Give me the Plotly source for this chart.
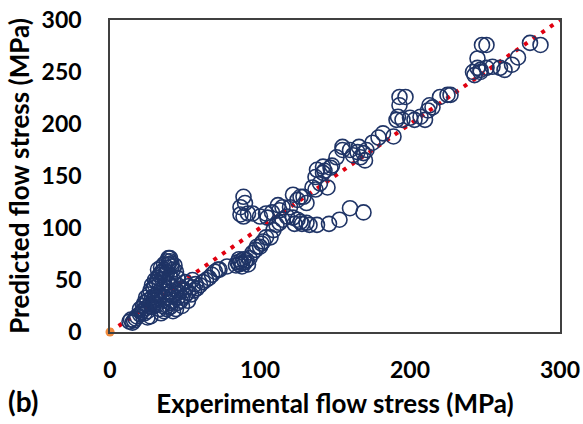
import plotly.graph_objects as go

# Experimental (x) vs predicted (y) flow stress, MPa
exp_stress = [
    13, 14, 15, 16, 17, 18, 20, 21, 22, 23, 24, 25, 26, 27, 28, 29, 30, 28, 30, 32, 31, 33, 35, 27, 25, 22, 20,
    29, 30, 31, 32, 33, 34, 35, 36, 37, 38, 39, 40, 41, 35, 33, 38, 42, 40, 39, 41,
    26, 27, 28, 30, 32, 34, 36, 38, 40, 43, 44, 42, 45, 36, 34, 32, 30, 38, 40, 25, 23, 24,
    35, 37, 38, 40, 42, 44, 46, 48, 50, 52, 55, 57, 60, 62, 64, 66, 68, 70, 72, 45, 50, 55, 40, 42, 38, 45, 47, 36, 34,
    45, 48, 50, 52, 54, 56, 58, 48, 44, 42, 40, 38, 52,
    73, 78, 84, 85, 86, 87, 88, 89, 90, 91, 92, 86, 88, 93,
    89, 90, 87, 87, 89, 92, 95, 100, 104,
    95, 98, 100, 102, 104, 107, 109, 111, 113, 115, 118, 113, 112, 125, 105, 108, 101, 97,
    115, 122, 123, 127, 128, 131, 133, 138, 146, 153, 160, 169,
    120, 122, 125, 127, 129, 131, 135, 137, 140, 142, 138, 142, 145, 147, 151, 155, 160, 165, 167, 169, 171, 175,
    179, 182, 155, 137, 143, 148, 162, 166, 170, 189,
    191, 192, 195, 200, 203, 207, 210, 193, 197, 193, 212, 215, 220, 225, 213, 227,
    242, 243, 245, 247, 248, 251, 251, 255, 260, 263, 268, 272, 280, 287, 245, 247,
]
pred_stress = [
    10, 12, 9, 11, 13, 15, 17, 19, 21, 18, 23, 20, 25, 27, 24, 30, 28, 33, 35, 38, 26, 22, 25, 15, 14, 25, 22,
    42, 45, 48, 52, 55, 57, 58, 60, 55, 62, 65, 68, 66, 50, 47, 57, 60, 53, 71, 63,
    36, 40, 45, 50, 60, 62, 65, 68, 71, 64, 58, 50, 52, 44, 40, 35, 32, 48, 45, 30, 28, 33,
    30, 33, 36, 38, 35, 40, 38, 42, 40, 44, 43, 46, 45, 48, 50, 52, 55, 58, 60, 45, 48, 50, 28, 30, 25, 33, 30, 20, 18,
    28, 33, 35, 38, 36, 40, 42, 25, 22, 20, 24, 22, 30,
    60, 63, 64, 67, 65, 68, 66, 70, 67, 69, 65, 70, 63, 71,
    130, 124, 120, 113, 111, 114, 114, 111, 114,
    76, 82, 82, 87, 91, 91, 98, 103, 105, 108, 111, 117, 122, 108, 110, 115, 85, 79,
    120, 110, 104, 106, 104, 105, 103, 103, 104, 108, 119, 115,
    120, 132, 127, 130, 130, 124, 139, 137, 143, 153, 156, 159, 139, 158, 168, 175, 175, 173, 168, 172, 175, 182,
    187, 191, 178, 149, 155, 160, 170, 178, 165, 188,
    204, 207, 204, 206, 204, 207, 204, 218, 226, 226, 213, 216, 226, 228, 218, 228,
    250, 247, 254, 250, 276, 276, 254, 255, 254, 252, 257, 264, 278, 276, 263, 252,
]

line_x = [0, 300]
line_y = [0, 300]
xaxis_ticks = [0, 100, 200, 300]
yaxis_ticks = [0, 50, 100, 150, 200, 250, 300]

FONT = "Lato"
fig = go.Figure()

fig.add_trace(go.Scatter(
    x=line_x, y=line_y, mode="lines",
    line=dict(color="#E00010", width=4, dash="4px,6.5px"),
    showlegend=False, hoverinfo="skip",
))
fig.add_trace(go.Scatter(
    x=exp_stress, y=pred_stress, mode="markers",
    marker=dict(symbol="circle-open", size=15, color="#1F3466",
                line=dict(width=1.6, color="#1F3466")),
    showlegend=False,
))
fig.add_trace(go.Scatter(
    x=[0], y=[0], mode="markers",
    marker=dict(size=9, color="#F08A3C"),
    showlegend=False, cliponaxis=False,
))

axis_common = dict(
    range=[0, 300], showgrid=False, zeroline=False, automargin=False,
    showline=True, mirror=True, linecolor="#404040", linewidth=1.5,
    ticks="", tickfont=dict(family=FONT, size=23, color="black", weight="bold"),
)

fig.update_layout(
    width=583, height=424,
    margin=dict(l=110, r=23, t=20, b=92),
    paper_bgcolor="white", plot_bgcolor="white",
    xaxis=dict(**axis_common, tickvals=xaxis_ticks, ticklabelstandoff=17,
               title=dict(text="Experimental flow stress (MPa)", standoff=12,
                          font=dict(family=FONT, size=26, color="black", weight="bold"))),
    yaxis=dict(**axis_common, tickvals=yaxis_ticks, ticklabelstandoff=22,
               title=dict(text="Predicted flow stress (MPa)", standoff=5,
                          font=dict(family=FONT, size=26, color="black", weight="bold"))),
    annotations=[dict(text="(b)", x=(23 - 110) / 450, y=(332 - 401) / 312,
                      xref="paper", yref="paper", xanchor="center", yanchor="middle",
                      showarrow=False,
                      font=dict(family=FONT, size=28, color="black", weight="bold"))],
)

fig.write_html("out.html")
